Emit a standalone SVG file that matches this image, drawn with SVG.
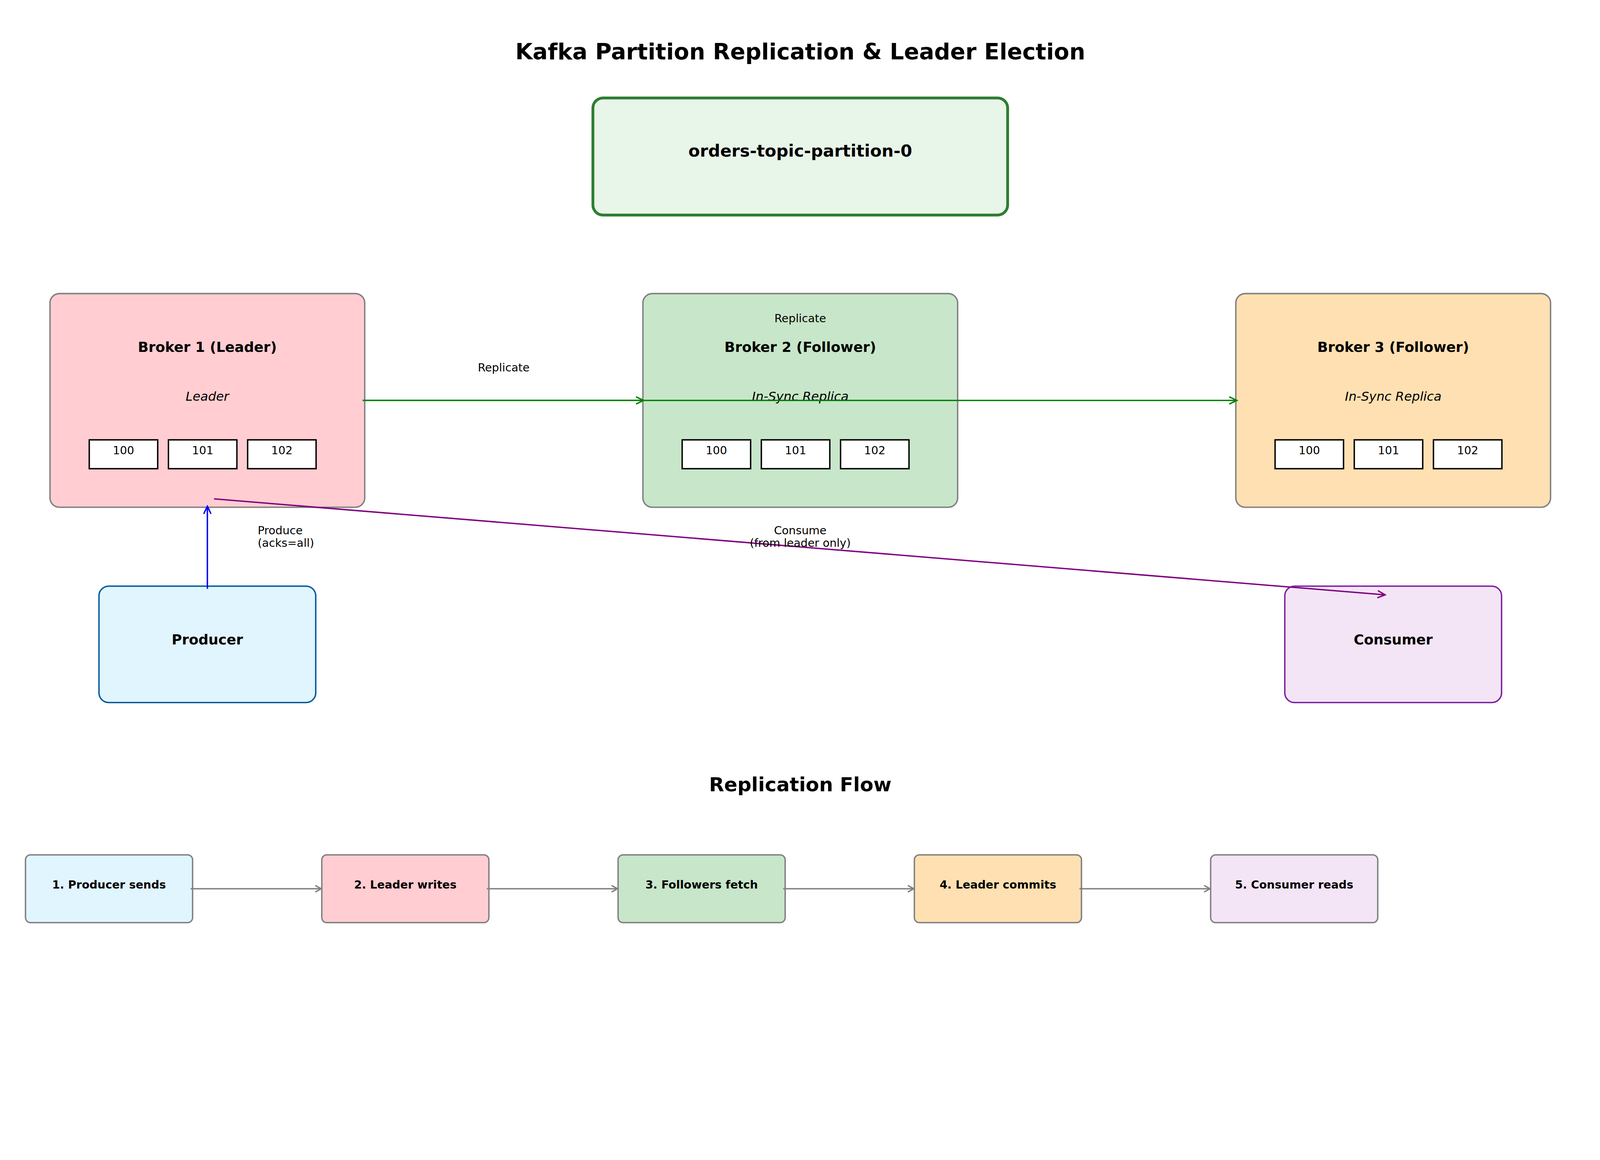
<svg xmlns="http://www.w3.org/2000/svg" width="4770" height="2970" viewBox="0 0 4770 2970">
<defs>
<style>
text{font-family:"DejaVu Sans","Liberation Sans",sans-serif;fill:#000}
.title{font-size:66.67px;font-weight:bold;text-anchor:middle}
.h2{font-size:58.33px;font-weight:bold;text-anchor:middle}
.part{font-size:50px;font-weight:bold;text-anchor:middle}
.bt{font-size:41.67px;font-weight:bold;text-anchor:middle}
.role{font-size:37.5px;font-style:italic;text-anchor:middle}
.msg{font-size:33.33px;text-anchor:middle}
.lbl{font-size:33.33px}
.mid{text-anchor:middle}
.step{font-size:33.33px;font-weight:bold;text-anchor:middle}
.broker{stroke:#808080;stroke-width:4.17}
.mbox{fill:#fff;stroke:#000;stroke-width:4.17}
.flow{stroke:#808080;stroke-width:4.17}
.ln{fill:none;stroke-width:4.17}
@media (max-width:4700px){#fit{transform:scale(0.859);transform-origin:0 0}}
</style>
<marker id="ag" markerUnits="userSpaceOnUse" viewBox="-26 -14 30 28" markerWidth="30" markerHeight="28" refX="0" refY="0" orient="auto">
<path d="M-21,-10 L0,0 L-21,10" fill="none" stroke="#008000" stroke-width="4.17" stroke-linecap="round"/>
</marker>
<marker id="ab" markerUnits="userSpaceOnUse" viewBox="-26 -14 30 28" markerWidth="30" markerHeight="28" refX="0" refY="0" orient="auto">
<path d="M-21,-10 L0,0 L-21,10" fill="none" stroke="#0000ff" stroke-width="4.17" stroke-linecap="round"/>
</marker>
<marker id="ap" markerUnits="userSpaceOnUse" viewBox="-26 -14 30 28" markerWidth="30" markerHeight="28" refX="0" refY="0" orient="auto">
<path d="M-21,-10 L0,0 L-21,10" fill="none" stroke="#800080" stroke-width="4.17" stroke-linecap="round"/>
</marker>
<marker id="ay" markerUnits="userSpaceOnUse" viewBox="-26 -14 30 28" markerWidth="30" markerHeight="28" refX="0" refY="0" orient="auto">
<path d="M-16,-9 L0,0 L-16,9" fill="none" stroke="#808080" stroke-width="4.17" stroke-linecap="round"/>
</marker>
</defs>
<rect width="100%" height="100%" fill="#fff"/>
<g id="fit">

<text id="title" class="title" x="2385" y="177">Kafka Partition Replication &amp; Leader Election</text>

<g id="partition">
<rect x="1767" y="292" width="1236" height="349" rx="30" fill="#e8f5e9" stroke="#2e7d32" stroke-width="8.33"/>
<text class="part" x="2385" y="467">orders-topic-partition-0</text>
</g>

<g id="broker1">
<rect class="broker" x="149" y="875" width="938" height="637" rx="28" fill="#ffcdd2"/>
<text class="bt" x="618" y="1049">Broker 1 (Leader)</text>
<text class="role" x="618" y="1194">Leader</text>
<rect class="mbox" x="266" y="1311" width="204" height="86"/>
<rect class="mbox" x="502" y="1311" width="204" height="86"/>
<rect class="mbox" x="738" y="1311" width="204" height="86"/>
<text class="msg" x="368" y="1354">100</text>
<text class="msg" x="604" y="1354">101</text>
<text class="msg" x="840" y="1354">102</text>
</g>

<g id="broker2">
<rect class="broker" x="1916" y="875" width="938" height="637" rx="28" fill="#c8e6c9"/>
<text class="bt" x="2385" y="1049">Broker 2 (Follower)</text>
<text class="role" x="2385" y="1194">In-Sync Replica</text>
<rect class="mbox" x="2033" y="1311" width="204" height="86"/>
<rect class="mbox" x="2269" y="1311" width="204" height="86"/>
<rect class="mbox" x="2505" y="1311" width="204" height="86"/>
<text class="msg" x="2135" y="1354">100</text>
<text class="msg" x="2371" y="1354">101</text>
<text class="msg" x="2607" y="1354">102</text>
</g>

<g id="broker3">
<rect class="broker" x="3683" y="875" width="938" height="637" rx="28" fill="#ffe0b2"/>
<text class="bt" x="4152" y="1049">Broker 3 (Follower)</text>
<text class="role" x="4152" y="1194">In-Sync Replica</text>
<rect class="mbox" x="3800" y="1311" width="204" height="86"/>
<rect class="mbox" x="4036" y="1311" width="204" height="86"/>
<rect class="mbox" x="4272" y="1311" width="204" height="86"/>
<text class="msg" x="3902" y="1354">100</text>
<text class="msg" x="4138" y="1354">101</text>
<text class="msg" x="4374" y="1354">102</text>
</g>

<g id="producer">
<rect x="295" y="1747" width="646" height="347" rx="29" fill="#e1f5fe" stroke="#01579b" stroke-width="4.17"/>
<text class="bt" x="618" y="1921">Producer</text>
</g>

<g id="consumer">
<rect x="3829" y="1747" width="646" height="347" rx="29" fill="#f3e5f5" stroke="#7b1fa2" stroke-width="4.17"/>
<text class="bt" x="4152" y="1921">Consumer</text>
</g>

<text id="flow-title" class="h2" x="2385" y="2359">Replication Flow</text>

<g id="step1">
<rect class="flow" x="76" y="2548" width="498" height="202" rx="15" fill="#e1f5fe"/>
<text class="step" x="325" y="2649">1. Producer sends</text>
</g>
<g id="step2">
<rect class="flow" x="959" y="2548" width="498" height="202" rx="15" fill="#ffcdd2"/>
<text class="step" x="1208" y="2649">2. Leader writes</text>
</g>
<g id="step3">
<rect class="flow" x="1842" y="2548" width="498" height="202" rx="15" fill="#c8e6c9"/>
<text class="step" x="2091" y="2649">3. Followers fetch</text>
</g>
<g id="step4">
<rect class="flow" x="2725" y="2548" width="498" height="202" rx="15" fill="#ffe0b2"/>
<text class="step" x="2974" y="2649">4. Leader commits</text>
</g>
<g id="step5">
<rect class="flow" x="3608" y="2548" width="498" height="202" rx="15" fill="#f3e5f5"/>
<text class="step" x="3857" y="2649">5. Consumer reads</text>
</g>

<g id="connectors">
<line class="ln" x1="1081" y1="1193.5" x2="1918" y2="1193.5" stroke="#008000" marker-end="url(#ag)"/>
<line class="ln" x1="1081" y1="1193.5" x2="3686" y2="1193.5" stroke="#008000" marker-end="url(#ag)"/>
<text class="lbl mid" x="1501" y="1107">Replicate</text>
<text class="lbl mid" x="2385" y="961">Replicate</text>
<line class="ln" x1="618" y1="1755" x2="618" y2="1509" stroke="#0000ff" marker-end="url(#ab)"/>
<text class="lbl" x="768" y="1592">Produce</text>
<text class="lbl" x="768" y="1630">(acks=all)</text>
<line class="ln" x1="638" y1="1487" x2="4128" y2="1773" stroke="#800080" marker-end="url(#ap)"/>
<text class="lbl mid" x="2385" y="1592">Consume</text>
<text class="lbl mid" x="2385" y="1630">(from leader only)</text>
<line class="ln" x1="568" y1="2649" x2="957" y2="2649" stroke="#808080" marker-end="url(#ay)"/>
<line class="ln" x1="1451" y1="2649" x2="1840" y2="2649" stroke="#808080" marker-end="url(#ay)"/>
<line class="ln" x1="2334" y1="2649" x2="2723" y2="2649" stroke="#808080" marker-end="url(#ay)"/>
<line class="ln" x1="3217" y1="2649" x2="3606" y2="2649" stroke="#808080" marker-end="url(#ay)"/>
</g>
</g>
</svg>
